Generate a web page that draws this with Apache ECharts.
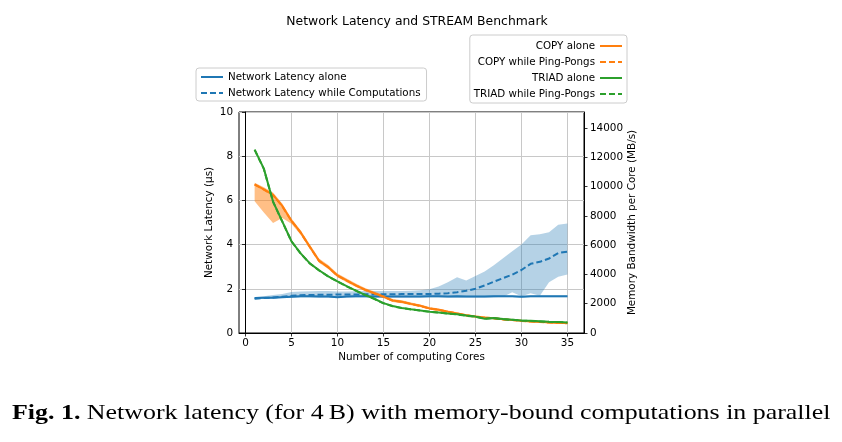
<!DOCTYPE html>
<html><head><meta charset="utf-8">
<script src="https://cdn.jsdelivr.net/npm/echarts@6/dist/echarts.min.js"></script>
<style>html,body{margin:0;padding:0;background:#fff}#c{width:842px;height:442px}</style>
</head><body><div id="c"></div>
<script>
// ---- data ----
const cores = [1,2,3,4,5,6,7,8,9,10,11,12,13,14,15,16,17,18,19,20,21,22,23,24,25,26,27,28,29,30,31,32,33,34,35];

// Network latency (µs), left axis
const latencyAlone = [1.58,1.59,1.60,1.62,1.64,1.66,1.66,1.65,1.65,1.62,1.65,1.66,1.66,1.65,1.65,1.65,1.65,1.65,1.65,1.66,1.66,1.65,1.66,1.65,1.65,1.65,1.66,1.66,1.66,1.64,1.66,1.66,1.66,1.66,1.66];
const latencyAloneLow = [1.54,1.55,1.56,1.58,1.60,1.62,1.62,1.61,1.61,1.58,1.61,1.62,1.62,1.61,1.61,1.61,1.61,1.61,1.61,1.62,1.62,1.61,1.62,1.61,1.61,1.61,1.62,1.62,1.62,1.60,1.62,1.62,1.62,1.62,1.62];
const latencyAloneHigh = [1.62,1.63,1.64,1.66,1.68,1.70,1.70,1.69,1.69,1.66,1.69,1.70,1.70,1.69,1.69,1.69,1.69,1.69,1.69,1.70,1.70,1.69,1.70,1.69,1.69,1.69,1.70,1.70,1.70,1.68,1.70,1.70,1.70,1.70,1.70];
const latencyWhile = [1.55,1.58,1.61,1.64,1.68,1.71,1.72,1.73,1.73,1.74,1.74,1.74,1.75,1.75,1.75,1.75,1.76,1.76,1.76,1.76,1.78,1.80,1.84,1.91,2.00,2.15,2.32,2.48,2.64,2.85,3.13,3.22,3.37,3.62,3.68];
const latencyWhileLow = [1.52,1.55,1.57,1.60,1.61,1.62,1.62,1.62,1.62,1.60,1.62,1.62,1.62,1.62,1.62,1.62,1.62,1.62,1.62,1.62,1.62,1.62,1.62,1.62,1.62,1.62,1.62,1.64,1.84,1.66,1.80,1.68,2.30,2.55,2.65];
const latencyWhileHigh = [1.62,1.66,1.72,1.77,1.85,1.88,1.89,1.90,1.90,1.88,1.88,1.89,1.90,1.90,1.90,1.90,1.90,1.91,1.93,1.98,2.10,2.30,2.52,2.38,2.58,2.78,3.07,3.38,3.70,4.00,4.42,4.47,4.56,4.90,4.95];

// Memory bandwidth per core (MB/s), right axis
const copyAlone = [10160,9820,9440,8680,7670,6870,5890,4940,4500,3930,3590,3260,2960,2720,2490,2220,2130,1990,1860,1680,1590,1460,1340,1210,1120,1060,1010,940,890,830,790,760,720,690,680];
const copyWhile = [10140,9800,9420,8660,7660,6860,5880,4930,4490,3920,3580,3250,2950,2710,2480,2210,2120,1980,1850,1670,1580,1450,1330,1200,1110,1050,1000,930,880,820,780,750,710,680,670];
const copyBandLow = [9010,8230,7520,7850,7470,6720,5740,4800,4380,3810,3470,3150,2850,2610,2390,2120,2040,1900,1770,1600,1510,1390,1270,1140,1060,1000,960,890,850,790,750,720,690,660,650];
const copyBandHigh = [10260,9960,9600,8850,7830,7020,6050,5090,4640,4060,3720,3380,3080,2830,2600,2320,2230,2080,1950,1770,1670,1540,1420,1280,1190,1120,1070,990,940,880,830,800,760,730,720];
const triadAlone = [12530,11230,8980,7630,6270,5440,4760,4290,3870,3530,3200,2900,2600,2340,2040,1840,1710,1620,1540,1460,1400,1340,1280,1190,1120,980,1030,950,910,860,830,800,770,760,720];
const triadWhile = [12510,11210,8970,7620,6260,5430,4750,4280,3860,3520,3190,2890,2590,2330,2030,1830,1700,1610,1530,1450,1390,1330,1270,1180,1110,970,1020,940,900,850,820,790,760,750,710];

// ticks
const xTicks = [0,5,10,15,20,25,30,35];
const rightTicks = [0,2000,4000,6000,8000,10000,12000,14000];

// ---- chart ----
const BLUE = '#1f77b4', ORANGE = '#ff7f0e', GREEN = '#2ca02c';
const FONT = 'DejaVu Sans';
const pairs = arr => cores.map((c, i) => [c, arr[i]]);

// shaded band drawn as one polygon through the axis scales
function band(lo, hi, color, yAxisIndex) {
  return {
    type: 'custom', coordinateSystem: 'cartesian2d', xAxisIndex: 0, yAxisIndex, silent: true, z: 1,
    data: cores.map((c, i) => [c, lo[i], hi[i]]),
    encode: { x: 0, y: [1, 2] },
    renderItem(params, api) {
      if (params.dataIndex !== 0) return null;
      const top = cores.map((c, i) => api.coord([c, hi[i]]));
      const bot = cores.map((c, i) => api.coord([c, lo[i]])).reverse();
      return { type: 'polygon', shape: { points: top.concat(bot) }, style: { fill: color, stroke: null } };
    }
  };
}
function line(name, arr, color, dashed, yAxisIndex, z) {
  return { name, type: 'line', yAxisIndex, data: pairs(arr), symbol: 'none', z: z || 3,
    lineStyle: { color, width: 2, type: dashed ? [6, 3] : 'solid' }, itemStyle: { color } };
}

const chart = echarts.init(document.getElementById('c'), null, { renderer: 'canvas' });
const axisText = { color: '#000', fontFamily: FONT, fontSize: 10.4 };
const legendCommon = {
  orient: 'vertical', itemWidth: 22, itemHeight: 10, itemGap: 6,
  borderColor: '#cccccc', borderWidth: 1, borderRadius: 3, backgroundColor: 'rgba(255,255,255,0.8)',
  textStyle: { fontFamily: FONT, fontSize: 10.3, color: '#000' }, selectedMode: false,
  itemStyle: { opacity: 0 }
};
chart.setOption({
  animation: false,
  backgroundColor: '#fff',
  textStyle: { fontFamily: FONT },
  graphic: [
    { type: 'text', x: 417, y: 22, style: { text: 'Network Latency and STREAM Benchmark', font: '12.4px "DejaVu Sans"',
      fill: '#000', textAlign: 'center', textVerticalAlign: 'middle' } },
    { type: 'text', x: 12, y: 413, scaleX: 1.178, style: {
      text: '{b|Fig. 1.} Network latency (for 4\u2009B) with memory-bound computations in parallel',
      font: '22px "Liberation Serif"', fill: '#000', textVerticalAlign: 'middle',
      rich: { b: { font: 'bold 22px "Liberation Serif"', fill: '#000' } } } }
  ],
  grid: { left: 239, right: 258, top: 112, bottom: 109, show: true, borderColor: '#000', borderWidth: 1,
    backgroundColor: 'transparent' },
  legend: [
    Object.assign({}, legendCommon, {
      data: ['Network Latency alone', 'Network Latency while Computations'],
      left: 196, top: 68, padding: [4, 6, 3, 4] }),
    Object.assign({}, legendCommon, {
      data: ['COPY alone', 'COPY while Ping-Pongs', 'TRIAD alone', 'TRIAD while Ping-Pongs'],
      align: 'right', right: 215, top: 35, padding: [6, 4, 4, 4] })
  ],
  xAxis: {
    type: 'value', min: -0.7, max: 36.8,
    name: 'Number of computing Cores', nameLocation: 'middle', nameGap: 19,
    nameTextStyle: axisText,
    axisLine: { lineStyle: { color: '#000', width: 1 } },
    axisTick: { show: true, length: 3.5, lineStyle: { color: '#000', width: 0.8 }, customValues: xTicks },
    axisLabel: { ...axisText, margin: 5, customValues: xTicks },
    splitLine: { show: true, lineStyle: { color: '#c8c8c8', width: 1 } }
  },
  yAxis: [
    { type: 'value', min: 0, max: 10, interval: 2, position: 'left',
      name: 'Network Latency (\u00b5s)', nameLocation: 'middle', nameGap: 25, nameRotate: 90,
      nameTextStyle: axisText,
      axisLine: { show: true, lineStyle: { color: '#000', width: 1 } },
      axisTick: { show: true, length: 3.5, lineStyle: { color: '#000', width: 0.8 } },
      axisLabel: { ...axisText, margin: 6 },
      splitLine: { show: true, lineStyle: { color: '#c8c8c8', width: 1 } } },
    { type: 'value', min: 0, max: 15100, position: 'right',
      name: 'Memory Bandwidth per Core (MB/s)', nameLocation: 'middle', nameGap: 42, nameRotate: 90,
      nameTextStyle: axisText,
      axisLine: { show: true, lineStyle: { color: '#000', width: 1 } },
      axisTick: { show: true, length: 3.5, lineStyle: { color: '#000', width: 0.8 }, customValues: rightTicks },
      axisLabel: { ...axisText, margin: 6, customValues: rightTicks, formatter: v => String(v) },
      splitLine: { show: false } }
  ],
  series: [
    band(latencyAloneLow, latencyAloneHigh, 'rgba(31,119,180,0.33)', 0),
    band(latencyWhileLow, latencyWhileHigh, 'rgba(31,119,180,0.33)', 0),
    line('Network Latency alone', latencyAlone, BLUE, false, 0, 2),
    line('Network Latency while Computations', latencyWhile, BLUE, true, 0, 2),
    band(copyBandLow, copyBandHigh, 'rgba(255,127,14,0.5)', 1),
    line('COPY alone', copyAlone, ORANGE, false, 1, 3),
    line('COPY while Ping-Pongs', copyWhile, ORANGE, true, 1, 3),
    line('TRIAD alone', triadAlone, GREEN, false, 1, 4),
    line('TRIAD while Ping-Pongs', triadWhile, GREEN, true, 1, 4)
  ]
});
</script>
</body></html>
